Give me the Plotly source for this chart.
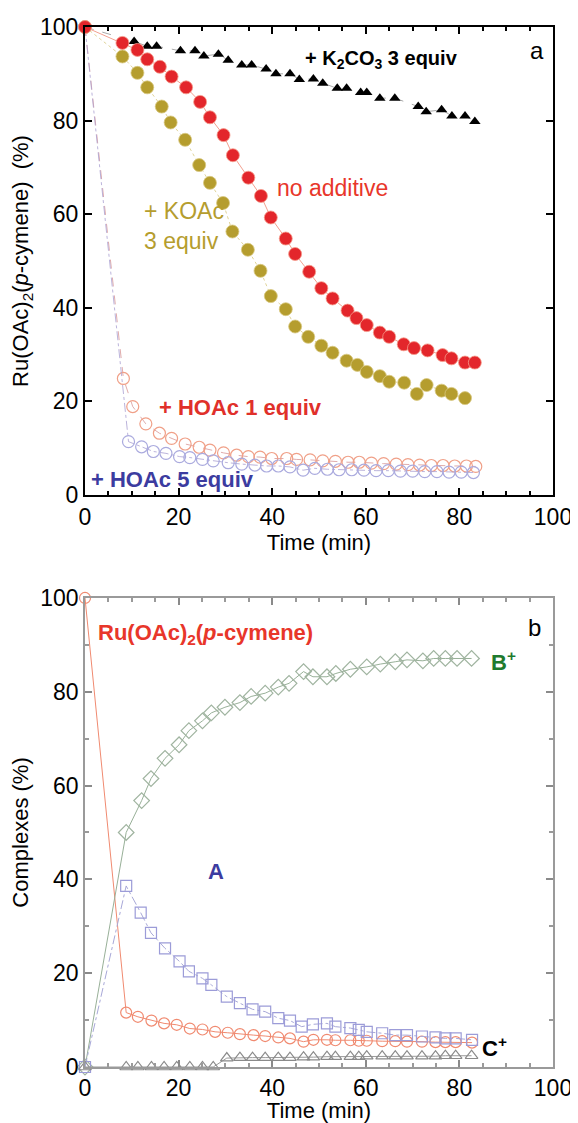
import plotly.graph_objects as go

# ---------------- Panel a data ----------------
k2co3_t = [0, 10.5, 13.3, 15.3, 20.4, 23.5, 25.4, 28.5, 30.6, 33.5, 35.6, 38.7, 40.8, 43.8, 45.8, 48.8,
           50.8, 53.9, 55.9, 58.9, 60.2, 63.0, 66.2, 71.2, 72.9, 76.2, 78.4, 81.2, 83.3]
k2co3_y = [100, 96.9, 95.9, 95.9, 94.9, 94.9, 93.8, 94.2, 92.9, 91.9, 91.9, 91.0, 90.0, 90.0, 88.8, 88.9,
           88.0, 86.9, 86.9, 86.0, 86.0, 84.8, 84.8, 83.0, 81.9, 82.3, 81.0, 81.0, 79.8]

none_t = [0, 8.0, 11.2, 13.3, 16.0, 18.5, 21.6, 24.6, 26.7, 29.6, 31.6, 34.9, 37.6, 39.7, 42.9, 44.9,
          47.9, 50.5, 52.9, 56.1, 58.0, 60.2, 63.0, 65.0, 68.1, 70.3, 73.2, 76.4, 78.3, 81.2, 83.3]
none_y = [100, 96.6, 95.1, 93.1, 91.5, 89.4, 87.1, 84.0, 80.7, 76.9, 72.6, 67.8, 63.9, 59.3, 54.8, 51.5,
          47.7, 44.2, 42.0, 39.4, 37.8, 36.3, 34.7, 33.8, 32.2, 31.4, 30.9, 29.9, 29.2, 28.3, 28.3]

koac_t = [0, 8.0, 11.2, 13.3, 16.4, 18.3, 21.4, 24.4, 26.7, 29.5, 31.5, 34.8, 37.5, 39.7, 42.9, 44.9,
          47.7, 50.5, 52.9, 55.9, 58.2, 60.2, 63.0, 65.0, 68.2, 70.9, 73.0, 76.2, 78.3, 81.2]
koac_y = [100, 93.7, 90.2, 87.1, 83.0, 79.6, 75.9, 70.5, 66.7, 62.4, 56.3, 52.4, 47.9, 42.5, 39.7, 36.0,
          33.8, 31.9, 30.4, 28.7, 27.8, 26.3, 25.4, 24.2, 24.0, 21.6, 23.5, 22.3, 21.6, 20.7]

hoac1_t = [0, 8.2, 10.2, 13.0, 15.9, 18.5, 21.4, 24.4, 26.7, 29.6, 32.4, 34.9, 37.4, 39.9, 43.1, 45.2,
           48.1, 50.8, 53.5, 56.2, 58.6, 61.2, 63.8, 66.5, 69.0, 71.5, 74.0, 76.5, 79.0, 81.5, 83.5]
hoac1_y = [100, 24.9, 18.9, 15.2, 13.2, 12.1, 10.9, 10.2, 9.6, 9.0, 8.5, 8.2, 8.1, 7.8, 7.8, 7.6,
           7.5, 7.3, 7.2, 7.0, 7.0, 6.8, 6.7, 6.6, 6.5, 6.4, 6.3, 6.3, 6.2, 6.2, 6.1]

hoac5_t = [0, 9.3, 12.1, 14.6, 17.3, 20.2, 22.4, 25.1, 27.4, 30.6, 33.5, 36.3, 38.8, 41.3, 43.8, 46.6,
           49.1, 51.8, 54.3, 57.0, 59.6, 62.2, 64.8, 67.4, 70.0, 72.6, 75.2, 77.8, 80.4, 83.0]
hoac5_y = [100, 11.4, 10.3, 9.3, 8.9, 8.2, 8.0, 7.6, 7.3, 6.9, 6.6, 6.4, 6.2, 6.2, 6.0, 5.3,
           5.7, 5.5, 5.4, 5.4, 5.3, 5.2, 5.2, 5.1, 5.1, 5.0, 5.0, 4.9, 4.9, 4.8]

# ---------------- Panel b data ----------------
ru_t = [0, 8.8, 11.3, 14.2, 16.9, 19.6, 22.4, 25.1, 27.8, 30.5, 33.1, 36.0, 38.5, 41.3, 43.8, 46.7,
        48.8, 51.7, 53.5, 56.7, 58.5, 60.2, 63.5, 66.3, 68.8, 72.0, 74.9, 77.0, 79.2, 82.7]
ru_y = [100, 11.6, 10.7, 9.9, 9.3, 9.0, 8.2, 8.0, 7.5, 7.3, 7.0, 6.8, 6.6, 6.3, 6.1, 5.4,
        5.8, 5.8, 5.7, 5.7, 5.6, 5.6, 5.5, 5.5, 5.4, 5.4, 5.3, 5.3, 5.3, 5.2]

b_t = [0, 8.8, 12.1, 14.1, 17.1, 20.1, 22.2, 25.1, 27.0, 29.9, 33.1, 35.5, 38.5, 41.3, 43.6, 46.7,
       48.7, 51.7, 53.6, 56.7, 60.2, 63.1, 66.3, 68.8, 72.2, 74.5, 77.0, 79.5, 82.6]
b_y = [0, 50.0, 56.8, 61.5, 65.8, 68.7, 71.7, 73.8, 75.5, 76.7, 77.7, 79.0, 79.7, 81.0, 81.8, 84.3,
       83.2, 83.2, 83.9, 84.8, 85.3, 85.9, 86.4, 86.8, 86.6, 87.1, 87.1, 87.1, 87.1]

a_t = [0, 8.8, 11.9, 14.1, 17.1, 20.2, 22.2, 25.1, 27.0, 30.3, 33.1, 35.8, 38.5, 41.3, 43.8, 46.3,
       48.7, 51.7, 53.5, 56.7, 58.5, 60.2, 63.5, 66.3, 68.8, 72.0, 74.9, 77.0, 79.2, 82.7]
a_y = [0, 38.6, 32.9, 28.6, 25.3, 22.5, 20.4, 18.9, 17.5, 15.0, 13.6, 12.3, 11.8, 10.4, 9.9, 8.6,
       9.1, 9.3, 8.6, 8.3, 7.9, 7.5, 7.2, 6.8, 6.8, 6.5, 6.3, 6.1, 6.1, 5.8]

c_t = [0, 8.8, 11.3, 14.2, 16.9, 19.6, 22.4, 25.1, 27.4, 30.3, 33.1, 35.8, 38.5, 41.3, 43.8, 46.7,
       48.8, 51.7, 53.5, 56.7, 58.5, 60.2, 63.5, 66.3, 68.8, 72.0, 74.9, 77.0, 79.2, 82.6]
c_y = [0, 0, 0, 0, 0, 0, 0, 0, 0, 1.9, 2.0, 2.0, 2.0, 2.0, 2.0, 2.1,
       2.1, 2.2, 2.2, 2.2, 2.2, 2.3, 2.3, 2.3, 2.3, 2.3, 2.3, 2.4, 2.4, 2.4]

FONT = "Liberation Sans, Arial, sans-serif"

fig = go.Figure()

# Panel a traces
fig.add_trace(go.Scatter(x=hoac1_t, y=hoac1_y, mode="lines+markers", xaxis="x", yaxis="y",
                         line=dict(color="rgba(215,150,150,0.8)", width=1, dash="dash"),
                         marker=dict(symbol="circle-open", size=12, color="#f0a088", line=dict(width=1.2)),
                         cliponaxis=False))
fig.add_trace(go.Scatter(x=hoac5_t, y=hoac5_y, mode="lines+markers", xaxis="x", yaxis="y",
                         line=dict(color="rgba(170,160,210,0.8)", width=1, dash="dashdot"),
                         marker=dict(symbol="circle-open", size=12, color="#aaaade", line=dict(width=1.2)),
                         cliponaxis=False))
fig.add_trace(go.Scatter(x=k2co3_t, y=k2co3_y, mode="lines+markers", xaxis="x", yaxis="y",
                         line=dict(color="#aaaaaa", width=1, dash="dash"),
                         marker=dict(symbol="triangle-up", size=10, color="black"),
                         cliponaxis=False))
fig.add_trace(go.Scatter(x=koac_t, y=koac_y, mode="lines+markers", xaxis="x", yaxis="y",
                         line=dict(color="#e0d49a", width=1, dash="dot"),
                         marker=dict(symbol="circle", size=13, color="#b59d2e",
                                     line=dict(color="#d8c880", width=0.8)),
                         cliponaxis=False))
fig.add_trace(go.Scatter(x=none_t, y=none_y, mode="lines+markers", xaxis="x", yaxis="y",
                         line=dict(color="#f2a090", width=1),
                         marker=dict(symbol="circle", size=13, color="#e3262b",
                                     line=dict(color="#f59a8a", width=0.8)),
                         cliponaxis=False))

# Panel b traces
fig.add_trace(go.Scatter(x=ru_t, y=ru_y, mode="lines+markers", xaxis="x2", yaxis="y2",
                         line=dict(color="#f08a70", width=1),
                         marker=dict(symbol="circle-open", size=11, color="#f08a70", line=dict(width=1.2)),
                         cliponaxis=False))
fig.add_trace(go.Scatter(x=b_t, y=b_y, mode="lines+markers", xaxis="x2", yaxis="y2",
                         line=dict(color="#98b098", width=1),
                         marker=dict(symbol="diamond-open", size=12, color="#a0b4a0", line=dict(width=1.2)),
                         cliponaxis=False))
fig.add_trace(go.Scatter(x=a_t, y=a_y, mode="lines+markers", xaxis="x2", yaxis="y2",
                         line=dict(color="#a8a8d8", width=1, dash="dashdot"),
                         marker=dict(symbol="square-open", size=11, color="#9c9cd8", line=dict(width=1.2)),
                         cliponaxis=False))
fig.add_trace(go.Scatter(x=c_t, y=c_y, mode="lines+markers", xaxis="x2", yaxis="y2",
                         line=dict(color="#9a9a9a", width=1),
                         marker=dict(symbol="triangle-up-open", size=11, color="#8a8a8a", line=dict(width=1.2)),
                         cliponaxis=False))

axis_common = dict(range=[0, 100], showgrid=False, zeroline=False, showline=True, mirror="ticks",
                   ticks="inside", ticklen=7, tickwidth=1.5, dtick=20, tick0=0, automargin=False,
                   tickfont=dict(family=FONT, size=23, color="black"),
                   title_font=dict(family=FONT, size=22, color="black"))

fig.update_layout(
    width=570, height=1115,
    margin=dict(l=77, r=25, t=19, b=56, autoexpand=False),
    paper_bgcolor="white", plot_bgcolor="white",
    showlegend=False,
    xaxis=dict(axis_common, anchor="y", domain=[0, 1], linecolor="black", linewidth=2, tickcolor="black",
               minor=dict(dtick=5, ticks="inside", ticklen=4, tickcolor="black"),
               title=dict(text="Time (min)", standoff=0)),
    yaxis=dict(axis_common, anchor="x", domain=[0.55, 1.0], linecolor="black", linewidth=2, tickcolor="black",
               title=dict(text="Ru(OAc)<sub>2</sub>(<i>p</i>-cymene)  (%)", standoff=6)),
    xaxis2=dict(axis_common, anchor="y2", domain=[0, 1], linecolor="#9a9a9a", linewidth=1.5, tickcolor="#8a8a8a",
                minor=dict(dtick=5, ticks="inside", ticklen=4, tickcolor="#9a9a9a"),
                title=dict(text="Time (min)", standoff=0)),
    yaxis2=dict(axis_common, anchor="x2", domain=[0, 0.451], linecolor="#9a9a9a", linewidth=1.5, tickcolor="#8a8a8a",
                minor=dict(dtick=10, ticks="inside", ticklen=4, tickcolor="#9a9a9a"),
                title=dict(text="Complexes (%)", standoff=6)),
)

def ann(x, y, text, color, xref, yref, size=21, bold=False, xanchor="left"):
    t = f"<b>{text}</b>" if bold else text
    fig.add_annotation(x=x, y=y, xref=xref, yref=yref, text=t, showarrow=False, xanchor=xanchor,
                       yanchor="middle", align="left",
                       font=dict(family=FONT, size=size, color=color))

# Panel a annotations
ann(46.5, 93.0, "+ K<sub>2</sub>CO<sub>3</sub> 3 equiv", "black", "x", "y", size=20, bold=True)
ann(96.5, 95.0, "a", "black", "x", "y", size=24, xanchor="center")
ann(40.5, 65.6, "no additive", "#e8362a", "x", "y", size=23)
ann(12.2, 57.4, "+ KOAc<br>3 equiv", "#b59d2e", "x", "y", size=23)
ann(15.3, 18.8, "+ HOAc 1 equiv", "#e0302a", "x", "y", size=22, bold=True)
ann(0.8, 3.4, "+ HOAc 5 equiv", "#3c3ca0", "x", "y", size=22, bold=True)

# Panel b annotations
ann(2.3, 92.3, "Ru(OAc)<sub>2</sub>(<i>p</i>-cymene)", "#e8362a", "x2", "y2", size=22, bold=True)
ann(96.0, 93.8, "b", "black", "x2", "y2", size=24, xanchor="center")
ann(86.3, 86.6, "B<sup>+</sup>", "#1f7a2e", "x2", "y2", size=22, bold=True)
ann(28.0, 41.6, "A", "#3c3ca0", "x2", "y2", size=22, bold=True, xanchor="center")
ann(84.5, 4.2, "C<sup>+</sup>", "black", "x2", "y2", size=22, bold=True)

fig.write_html("out.html")
